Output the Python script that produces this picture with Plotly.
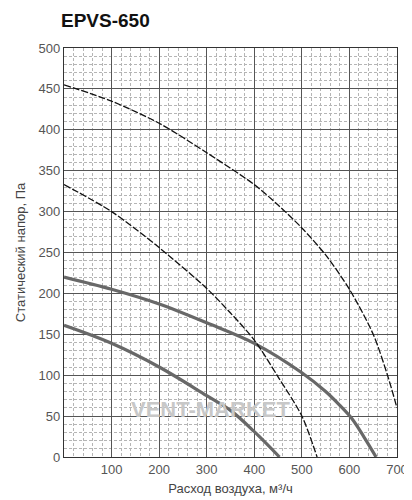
import plotly.graph_objects as go

# Fan curves, EPVS-650
# thick solid curves
solid_hi_x = [0, 100, 200, 300, 400, 500, 550, 580, 605, 630, 656]
solid_hi_y = [220, 205, 187, 164, 139, 103, 80, 63, 47, 25, 0]

solid_lo_x = [0, 100, 200, 300, 350, 400, 453]
solid_lo_y = [161, 139, 110, 75, 57, 31, 0]

# thin dashed curves
dash_hi_x = [0, 100, 200, 300, 400, 450, 500, 550, 600, 650, 680, 700]
dash_hi_y = [455, 435, 408, 372, 333, 308, 280, 247, 205, 150, 100, 60]

dash_lo_x = [0, 100, 200, 300, 350, 400, 450, 500, 532]
dash_lo_y = [333, 300, 256, 206, 176, 143, 98, 50, 0]

x_ticks = [100, 200, 300, 400, 500, 600, 700]
y_ticks = [0, 50, 100, 150, 200, 250, 300, 350, 400, 450, 500]

fig = go.Figure()

for xs, ys in [(solid_hi_x, solid_hi_y), (solid_lo_x, solid_lo_y)]:
    fig.add_trace(go.Scatter(x=xs, y=ys, mode="lines",
                             line=dict(color="#686868", width=3.2, shape="spline", smoothing=1)))

for xs, ys in [(dash_hi_x, dash_hi_y), (dash_lo_x, dash_lo_y)]:
    fig.add_trace(go.Scatter(x=xs, y=ys, mode="lines",
                             line=dict(color="#111111", width=1.3, dash="7px,2px", shape="spline", smoothing=0.8)))

# watermark
fig.add_annotation(text="<b>VENT-MARKET</b>", x=0.44, y=0.08, xref="paper", yref="paper",
                   showarrow=False, font=dict(family="Liberation Sans", size=22, color="#c8c8c8"))

tick_font = dict(family="Liberation Sans", size=13, color="#555555")

fig.update_xaxes(range=[0, 700], tickvals=x_ticks, showgrid=True, gridcolor="#555555", gridwidth=1.1,
                 minor=dict(dtick=20, showgrid=True, gridcolor="#b5b5b5", griddash="3px,2px", gridwidth=0.8),
                 showline=True, linecolor="#333333", linewidth=1.3, mirror=True,
                 zeroline=False, ticks="", tickfont=tick_font,
                 title=dict(text="Расход воздуха, м³/ч", font=dict(family="Liberation Sans", size=13, color="#444444"), standoff=8))
fig.update_yaxes(range=[0, 500], tickvals=y_ticks, showgrid=True, gridcolor="#555555", gridwidth=1.1,
                 minor=dict(dtick=10, showgrid=True, gridcolor="#b5b5b5", griddash="3px,2px", gridwidth=0.8),
                 showline=True, linecolor="#333333", linewidth=1.3, mirror=True,
                 zeroline=False, ticks="", tickfont=tick_font,
                 title=dict(text="Статический напор, Па", font=dict(family="Liberation Sans", size=13, color="#444444"), standoff=9))

fig.update_layout(width=412, height=500, showlegend=False,
                  margin=dict(l=54, r=19, t=40, b=51),
                  paper_bgcolor="white", plot_bgcolor="white",
                  title=dict(text="<b>EPVS-650</b>", x=53 / 412, xanchor="left", y=0.975, yanchor="middle",
                             font=dict(family="Liberation Sans", size=19, color="#111111")))

fig.write_html("out.html")
